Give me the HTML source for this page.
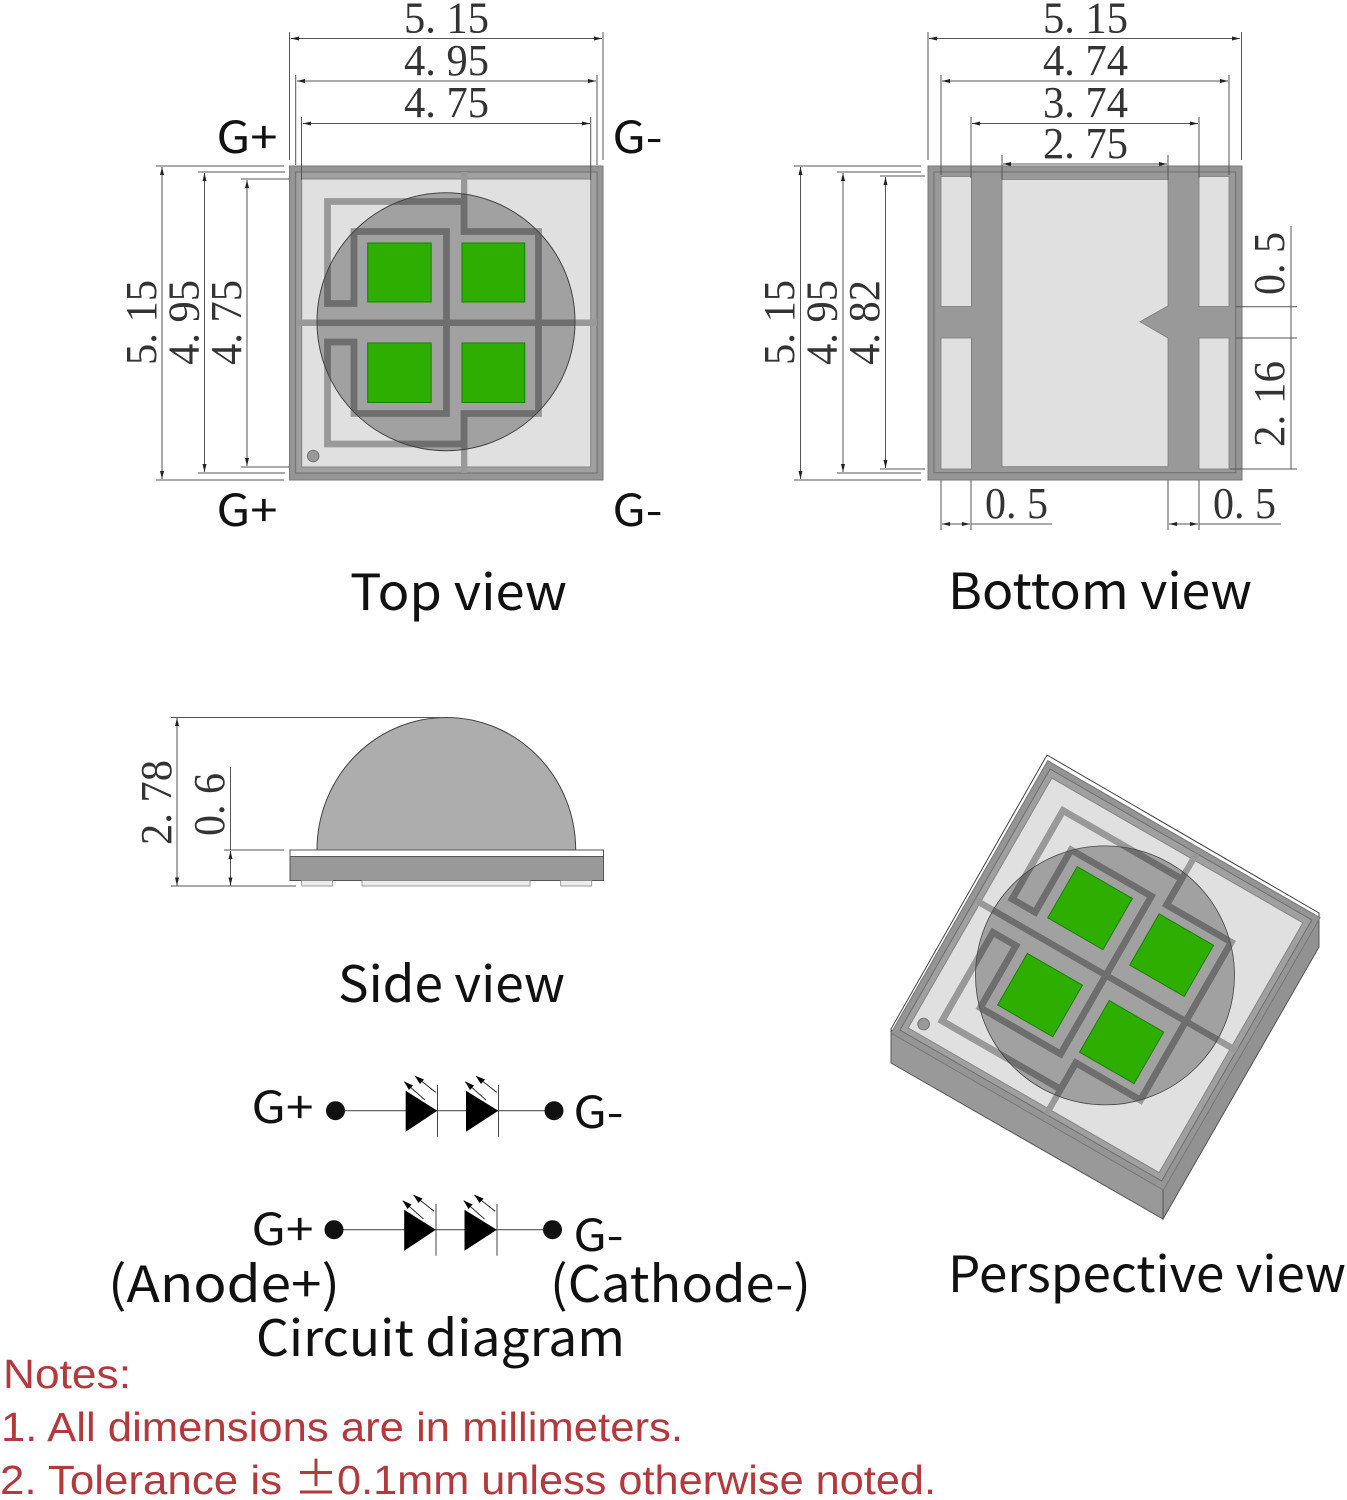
<!DOCTYPE html>
<html>
<head>
<meta charset="utf-8">
<style>
html,body{margin:0;padding:0;background:#fff}
svg{display:block}
.d{stroke:#555;stroke-width:1;fill:none}
.a{marker-start:url(#ms);marker-end:url(#me)}
.n{font-family:"Liberation Serif",serif;font-size:44px;fill:#333}
.c{font-family:"Noto Sans CJK SC","Liberation Sans",sans-serif;font-size:50px;fill:#111}
.g{font-family:"Noto Sans CJK SC","Liberation Sans",sans-serif;font-size:44px;fill:#111}
.r{font-family:"Liberation Sans",sans-serif;font-size:41px;fill:#b23a3e}
</style>
</head>
<body>
<svg width="1347" height="1500" viewBox="0 0 1347 1500" xmlns="http://www.w3.org/2000/svg">
<defs>
<marker id="me" markerUnits="userSpaceOnUse" markerWidth="10" markerHeight="6" refX="8" refY="3" orient="auto"><path d="M0,1 L8,3 L0,5Z" fill="#222"/></marker>
<marker id="ms" markerUnits="userSpaceOnUse" markerWidth="10" markerHeight="6" refX="0" refY="3" orient="auto"><path d="M8,1 L0,3 L8,5Z" fill="#222"/></marker>
<g id="pat">
<rect x="289.5" y="166" width="313.5" height="314" fill="#959595" stroke="#777" stroke-width="1"/>
<rect x="295.7" y="172" width="301.3" height="301" fill="#a0a0a0" stroke="#6e6e6e" stroke-width="1"/>
<rect x="301.7" y="179" width="289" height="288" fill="#e0e0e0" stroke="#858585" stroke-width="1"/>
<rect x="461" y="172" width="6.3" height="60" fill="#999"/>
<rect x="461" y="413" width="6.3" height="60" fill="#999"/>
<rect x="296" y="319.5" width="301" height="6.5" fill="#999"/>
<path d="M327.5,303.5 L327.5,201.5 L464,201.5 L464,231.5 L538.5,231.5 L538.5,413.5 L464,413.5 L464,444 L327.5,444 L327.5,342 L354,342 L354,413.5 L446.5,413.5 L446.5,231.5 L354,231.5 L354,303.5 Z" fill="none" stroke="#999" stroke-width="6.8"/>
<circle cx="313.2" cy="456" r="5.8" fill="#999" stroke="#777" stroke-width="1"/>
</g>
<g id="dies" fill="#2eae00" stroke="#1f7d00" stroke-width="1">
<rect x="367.7" y="243" width="63.5" height="59"/>
<rect x="462" y="243" width="62.7" height="59"/>
<rect x="367.7" y="343" width="63.5" height="59.5"/>
<rect x="462" y="343" width="62.7" height="59.5"/>
</g>
<g id="ckt">
<line x1="335" y1="1110.7" x2="554" y2="1110.7" stroke="#555" stroke-width="1.2"/>
<circle cx="335.5" cy="1110.7" r="9.5" fill="#111"/>
<circle cx="554" cy="1110.7" r="9.5" fill="#111"/>
<path d="M405.7,1090.7 L405.7,1131.7 L437.3,1110.7Z" fill="#000"/>
<path d="M466,1090.7 L466,1131.7 L498.3,1110.7Z" fill="#000"/>
<line x1="437.5" y1="1085" x2="437.5" y2="1136.7" stroke="#444"/>
<line x1="498.5" y1="1085" x2="498.5" y2="1136.7" stroke="#444"/>
<g stroke="#333" stroke-width="1">
<line x1="425" y1="1100" x2="404.3" y2="1081.7"/><line x1="435.7" y1="1092.3" x2="415" y2="1076"/>
<line x1="486" y1="1100" x2="465.3" y2="1081.7"/><line x1="496.7" y1="1092.3" x2="476" y2="1076"/>
</g>
<path d="M404,1081.4 L413,1085.5 L409,1090Z M414.7,1075.7 L424,1079.5 L420,1084Z M465,1081.4 L474,1085.5 L470,1090Z M475.7,1075.7 L485,1079.5 L481,1084Z" fill="#000"/>
</g>
</defs>

<rect width="1347" height="1500" fill="#fff"/>

<!-- TOP VIEW -->
<use href="#pat"/>
<circle cx="446" cy="321.7" r="129" fill="#000" fill-opacity=".28" stroke="#444" stroke-width="1"/>
<use href="#dies"/>
<g class="d">
<path d="M289.5,32V160M603,32V160M295.7,75V165M597,75V165M301.5,117V180M590.7,117V180"/>
<path d="M156,166H284M198,172H285M241,179H289M156,480H284M198,473H285M241,467H289"/>
<line class="a" x1="291" y1="38.5" x2="602" y2="38.5"/>
<line class="a" x1="297" y1="81" x2="596" y2="81"/>
<line class="a" x1="303" y1="123.5" x2="590" y2="123.5"/>
<line class="a" x1="162" y1="167" x2="162" y2="479"/>
<line class="a" x1="204.5" y1="173" x2="204.5" y2="472"/>
<line class="a" x1="247" y1="180" x2="247" y2="466"/>
</g>
<text class="n" x="404" y="32.5" textLength="85" lengthAdjust="spacingAndGlyphs">5. 15</text>
<text class="n" x="404" y="75" textLength="85" lengthAdjust="spacingAndGlyphs">4. 95</text>
<text class="n" x="404" y="117" textLength="85" lengthAdjust="spacingAndGlyphs">4. 75</text>
<text class="n" transform="translate(156,365) rotate(-90)" textLength="85" lengthAdjust="spacingAndGlyphs">5. 15</text>
<text class="n" transform="translate(198.5,365) rotate(-90)" textLength="85" lengthAdjust="spacingAndGlyphs">4. 95</text>
<text class="n" transform="translate(241,365) rotate(-90)" textLength="85" lengthAdjust="spacingAndGlyphs">4. 75</text>
<text class="g" x="216.5" y="153" textLength="61" lengthAdjust="spacingAndGlyphs">G+</text>
<text class="g" x="612.5" y="153" textLength="50" lengthAdjust="spacingAndGlyphs">G-</text>
<text class="g" x="216.5" y="526" textLength="61" lengthAdjust="spacingAndGlyphs">G+</text>
<text class="g" x="612.5" y="526" textLength="50" lengthAdjust="spacingAndGlyphs">G-</text>
<text class="c" x="350" y="610" textLength="217" lengthAdjust="spacingAndGlyphs">Top view</text>

<!-- BOTTOM VIEW -->
<rect x="928" y="166" width="314" height="314" fill="#959595" stroke="#777"/>
<rect x="934" y="172" width="301.7" height="300.7" fill="#999" stroke="#6e6e6e"/>
<g fill="#e0e0e0" stroke="#7d7d7d" stroke-width=".8">
<rect x="941" y="176.5" width="30.4" height="130"/>
<rect x="941" y="338" width="30.4" height="131"/>
<rect x="1199" y="176.5" width="30" height="130"/>
<rect x="1199" y="338" width="30" height="131"/>
<path d="M1002,179.5 H1168 V306 L1140,321.7 L1168,338 V466.7 H1002Z"/>
</g>
<g class="d">
<path d="M928,32V160M1241.5,32V160M941,75V175M1229,75V175M971,117V178M1199,117V178M1002,155V180M1168,155V180"/>
<path d="M794,166H921M837,172H921M880,176H925M794,480H921M837,473H921M880,469H925"/>
<path d="M1236,306.7H1297M1236,338H1297M1230,469H1297M1291,226V469"/>
<path d="M941,480V530M971,480V530M1168,480V530M1199,480V530M971,524H1052M1199,524H1281"/>
<line class="a" x1="929" y1="38.5" x2="1240" y2="38.5"/>
<line class="a" x1="942" y1="81" x2="1228" y2="81"/>
<line class="a" x1="972" y1="123.5" x2="1198" y2="123.5"/>
<line class="a" x1="1003" y1="164" x2="1167" y2="164"/>
<line class="a" x1="800.5" y1="167" x2="800.5" y2="479"/>
<line class="a" x1="843" y1="173" x2="843" y2="472"/>
<line class="a" x1="885.5" y1="177" x2="885.5" y2="468"/>
<line class="a" x1="942" y1="524" x2="970" y2="524"/>
<line class="a" x1="1169" y1="524" x2="1198" y2="524"/>
</g>
<text class="n" x="1043" y="32.5" textLength="85" lengthAdjust="spacingAndGlyphs">5. 15</text>
<text class="n" x="1043" y="75" textLength="85" lengthAdjust="spacingAndGlyphs">4. 74</text>
<text class="n" x="1043" y="117" textLength="85" lengthAdjust="spacingAndGlyphs">3. 74</text>
<text class="n" x="1043" y="158" textLength="85" lengthAdjust="spacingAndGlyphs">2. 75</text>
<text class="n" transform="translate(794,365) rotate(-90)" textLength="85" lengthAdjust="spacingAndGlyphs">5. 15</text>
<text class="n" transform="translate(836.5,365) rotate(-90)" textLength="85" lengthAdjust="spacingAndGlyphs">4. 95</text>
<text class="n" transform="translate(879,365) rotate(-90)" textLength="85" lengthAdjust="spacingAndGlyphs">4. 82</text>
<text class="n" transform="translate(1284,295) rotate(-90)" textLength="63" lengthAdjust="spacingAndGlyphs">0. 5</text>
<text class="n" transform="translate(1284,447) rotate(-90)" textLength="86" lengthAdjust="spacingAndGlyphs">2. 16</text>
<text class="n" x="985" y="518" textLength="63" lengthAdjust="spacingAndGlyphs">0. 5</text>
<text class="n" x="1213" y="518" textLength="63" lengthAdjust="spacingAndGlyphs">0. 5</text>
<text class="c" x="948" y="609" textLength="304" lengthAdjust="spacingAndGlyphs">Bottom view</text>

<!-- SIDE VIEW -->
<path d="M317,850 A129.3,132.5 0 0 1 575.7,850Z" fill="#adadad" stroke="#444" stroke-width="1"/>
<rect x="290" y="850" width="313.5" height="6.5" fill="#fff" stroke="#555" stroke-width="1"/>
<rect x="290" y="856.5" width="313.5" height="24" fill="#999" stroke="#555" stroke-width="1"/>
<g fill="#ececec" stroke="#888" stroke-width=".8">
<rect x="301.7" y="880.5" width="31" height="5.5"/>
<rect x="362" y="880.5" width="168" height="5.5"/>
<rect x="560.7" y="880.5" width="31" height="5.5"/>
</g>
<g class="d">
<path d="M171,717.5H440M171,886H296M224,850H284M230.5,767V850"/>
<line class="a" x1="177" y1="718" x2="177" y2="885.5"/>
<line class="a" x1="230.5" y1="851" x2="230.5" y2="885.5"/>
</g>
<text class="n" transform="translate(171,845) rotate(-90)" textLength="85" lengthAdjust="spacingAndGlyphs">2. 78</text>
<text class="n" transform="translate(224,836) rotate(-90)" textLength="63" lengthAdjust="spacingAndGlyphs">0. 6</text>
<text class="c" x="338" y="1002" textLength="227" lengthAdjust="spacingAndGlyphs">Side view</text>

<!-- PERSPECTIVE VIEW -->
<path d="M891,1029 L1163,1188 L1163,1219 L891,1063Z" fill="#999" stroke="#555" stroke-width="1"/>
<path d="M1163,1188 L1319,915 L1319,947 L1163,1219Z" fill="#929292" stroke="#555" stroke-width="1"/>
<path d="M891,1029 L1047,755 L1319,913 L1319,919 L1048,762 L892,1033Z" fill="#fff" stroke="#444" stroke-width="1"/>
<g transform="matrix(.8686,.5008,-.499,.8672,879.1,471.8)"><use href="#pat"/></g>
<circle cx="1105" cy="975.4" r="129.5" fill="#000" fill-opacity=".28" stroke="#444" stroke-width=".8"/>
<g transform="matrix(.8686,.5008,-.499,.8672,879.1,471.8)"><use href="#dies"/></g>
<text class="c" x="948" y="1292" textLength="398" lengthAdjust="spacingAndGlyphs">Perspective view</text>

<!-- CIRCUIT -->
<use href="#ckt"/>
<g transform="translate(-1.5,119)"><use href="#ckt"/></g>
<text class="g" x="251.5" y="1123" textLength="62" lengthAdjust="spacingAndGlyphs">G+</text>
<text class="g" x="573.5" y="1128" textLength="50" lengthAdjust="spacingAndGlyphs">G-</text>
<text class="g" x="251.5" y="1245" textLength="62" lengthAdjust="spacingAndGlyphs">G+</text>
<text class="g" x="573.5" y="1251" textLength="50" lengthAdjust="spacingAndGlyphs">G-</text>
<text class="c" x="108" y="1302" textLength="232" lengthAdjust="spacingAndGlyphs">(Anode+)</text>
<text class="c" x="550" y="1302" textLength="261" lengthAdjust="spacingAndGlyphs">(Cathode-)</text>
<text class="c" x="256" y="1356" textLength="369" lengthAdjust="spacingAndGlyphs">Circuit diagram</text>

<!-- NOTES -->
<text class="r" x="3" y="1388" textLength="128" lengthAdjust="spacingAndGlyphs">Notes:</text>
<text class="r" x="1" y="1441" textLength="682" lengthAdjust="spacingAndGlyphs">1. All dimensions are in millimeters.</text>
<text class="r" x="0" y="1494" textLength="282" lengthAdjust="spacingAndGlyphs">2. Tolerance is</text>
<text x="294" y="1494" font-family="'Noto Sans CJK SC',sans-serif" font-size="44" fill="#b23a3e">±</text>
<text class="r" x="337" y="1494" textLength="599" lengthAdjust="spacingAndGlyphs">0.1mm unless otherwise noted.</text>
</svg>
</body>
</html>
